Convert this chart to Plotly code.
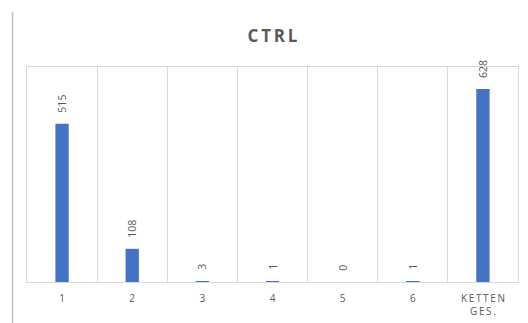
import plotly.graph_objects as go

categories = ["1", "2", "3", "4", "5", "6", "K\u2009E\u2009T\u2009T\u2009E\u2009N<br>G\u2009E\u2009S\u2009."]
counts = [515, 108, 3, 1, 0, 1, 628]

grey_text = "#595959"
grid = "#d9d9d9"

fig = go.Figure(
    go.Bar(
        x=categories,
        y=counts,
        marker=dict(color="#4472c4", line=dict(width=0)),
        texttemplate="\u00a0\u00a0\u00a0%{y}",
        textposition="outside",
        textangle=-90,
        constraintext="none",
        textfont=dict(size=10.5, color=grey_text, family="Open Sans"),
        cliponaxis=False,
    )
)

fig.update_layout(
    width=528,
    height=323,
    margin=dict(l=27, r=10, t=67, b=41),
    paper_bgcolor="white",
    plot_bgcolor="white",
    bargap=0.81,
    showlegend=False,
    font=dict(family="Open Sans", color=grey_text),
    uniformtext=dict(mode=False),
    title=dict(
        text="<b>C\u2009T\u2009R\u2009L</b>",
        x=0.5,
        xref="paper",
        y=0.888,
        yref="container",
        yanchor="middle",
        font=dict(size=17, color=grey_text, family="Open Sans"),
    ),
    xaxis=dict(
        type="category",
        tickson="boundaries",
        automargin=False,
        showgrid=True,
        gridcolor=grid,
        gridwidth=1,
        showline=True,
        linecolor=grid,
        mirror=True,
        ticks="",
        ticklabelstandoff=7,
        tickfont=dict(size=10, color=grey_text),
    ),
    yaxis=dict(
        range=[0, 700],
        automargin=False,
        showgrid=False,
        showticklabels=False,
        zeroline=False,
        showline=True,
        linecolor=grid,
        mirror=True,
        ticks="",
    ),
    shapes=[
        dict(
            type="line",
            xref="paper",
            yref="paper",
            x0=-0.0295,
            x1=-0.0295,
            y0=1.256,
            y1=-0.2,
            line=dict(color="#bfbfbf", width=1.5),
        )
    ],
)

fig.write_html("out.html")
